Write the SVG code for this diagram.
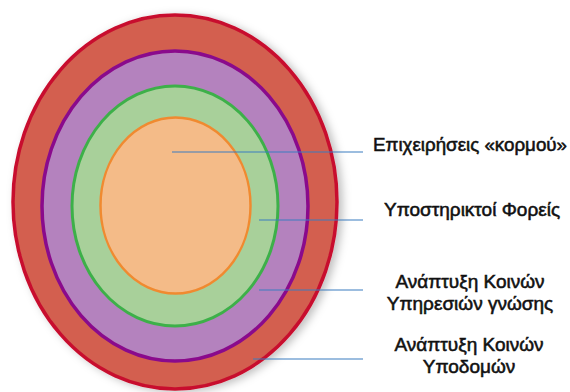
<svg xmlns="http://www.w3.org/2000/svg" width="570" height="392" viewBox="0 0 570 392">
<defs>
<filter id="sh" x="-10%" y="-10%" width="130%" height="130%">
<feDropShadow dx="4" dy="2" stdDeviation="4" flood-color="#000" flood-opacity="0.25"/>
</filter>
<style>
.lbl{font-family:"Liberation Sans",Arial,sans-serif;font-size:19px;fill:#111;stroke:#111;stroke-width:0.55;text-anchor:middle}
.ln{stroke:#3b7dbf;stroke-width:1.2;fill:none}
</style>
</defs>
<rect width="570" height="392" fill="#fff"/>
<g id="ring-infrastructure">
<ellipse cx="175" cy="202" rx="162" ry="187" fill="#d35f50" stroke="#c8102e" stroke-width="3.5" filter="url(#sh)"/>
</g>
<g id="ring-knowledge">
<ellipse cx="175" cy="206" rx="133" ry="155" fill="#b482be" stroke="#8a0a8c" stroke-width="3.5"/>
</g>
<g id="ring-support">
<ellipse cx="175" cy="206" rx="103" ry="120" fill="#a8d09a" stroke="#3db049" stroke-width="3"/>
</g>
<g id="ring-core">
<ellipse cx="175.5" cy="205.5" rx="75" ry="88" fill="#f4bb88" stroke="#f08a30" stroke-width="2.5"/>
</g>
<g id="connectors">
<line class="ln" x1="172" y1="152" x2="363" y2="152"/>
<line class="ln" x1="259" y1="220" x2="363" y2="220"/>
<line class="ln" x1="259" y1="290" x2="363" y2="290"/>
<line class="ln" x1="253" y1="359" x2="363" y2="359"/>
</g>
<g id="label-core"><text class="lbl" x="470" y="151" textLength="194" lengthAdjust="spacingAndGlyphs">Επιχειρήσεις «κορμού»</text></g>
<g id="label-support"><text class="lbl" x="472" y="216">Υποστηρικτοί Φορείς</text></g>
<g id="label-knowledge"><text class="lbl" x="470" y="288">Ανάπτυξη Κοινών</text><text class="lbl" x="470" y="310">Υπηρεσιών γνώσης</text></g>
<g id="label-infrastructure"><text class="lbl" x="469" y="351">Ανάπτυξη Κοινών</text><text class="lbl" x="469" y="373">Υποδομών</text></g>
</svg>
